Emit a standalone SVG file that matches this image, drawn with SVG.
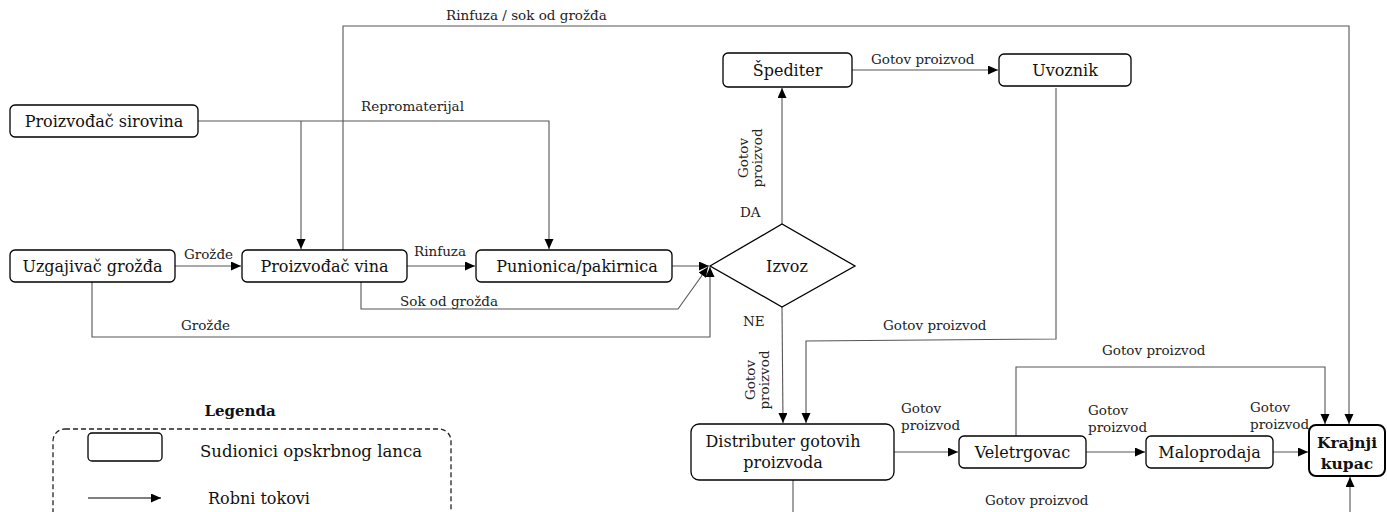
<svg xmlns="http://www.w3.org/2000/svg" width="1387" height="512" viewBox="0 0 1387 512">
<style>
.box{fill:#fff;stroke:#000;stroke-width:1.3}
.bt{font-family:"DejaVu Serif","Liberation Serif",serif;font-size:16px;fill:#111;text-anchor:middle}
.lb{font-family:"DejaVu Serif","Liberation Serif",serif;font-size:13.5px;fill:#222}
.ln{fill:none;stroke:#555;stroke-width:1.1}
.lna{fill:none;stroke:#555;stroke-width:1.1;marker-end:url(#ah)}
</style>
<defs>
<marker id="ah" markerUnits="userSpaceOnUse" markerWidth="11" markerHeight="10" refX="10" refY="4.5" orient="auto">
<path d="M0,0 L10,4.5 L0,9 z" fill="#000"/>
</marker>
</defs>
<rect width="1387" height="512" fill="#fff"/>

<g id="connectors">
<polyline class="lna" points="343,250 343,26 1349,26 1349,424"/>
<polyline class="lna" points="198,121 549,121 549,249"/>
<polyline class="lna" points="301,121 301,249"/>
<polyline class="lna" points="175,266 241,266"/>
<polyline class="lna" points="407,266 475,266"/>
<polyline class="lna" points="672,266 709,266"/>
<polyline class="lna" points="361,282 361,309 678,309 708,267"/>
<polyline class="lna" points="92,282 92,337 710,337 710,267"/>
<polyline class="lna" points="782,224 782,88"/>
<polyline class="lna" points="852,70 998,70"/>
<polyline class="lna" points="1056,88 1056,339 806,341 806,423"/>
<polyline class="lna" points="782,307 783,423"/>
<polyline class="lna" points="894,452 958,452"/>
<polyline class="lna" points="1086,452 1145,452"/>
<polyline class="lna" points="1273,452 1308,452"/>
<polyline class="lna" points="1016,436 1016,367 1325,367 1325,424"/>
<polyline class="ln" points="793,480 793,512"/>
<polyline class="lna" points="1350,512 1350,477"/>

<text class="lb" x="446" y="20">Rinfuza / sok od grožđa</text>
<text class="lb" x="361" y="111">Repromaterijal</text>
<text class="lb" x="184" y="259">Grožđe</text>
<text class="lb" x="414" y="256">Rinfuza</text>
<text class="lb" x="400" y="306">Sok od grožđa</text>
<text class="lb" x="181" y="330">Grožđe</text>
<text class="lb" x="871" y="64">Gotov proizvod</text>
<text class="lb" x="740" y="217">DA</text>
<text class="lb" x="743" y="326">NE</text>
<text class="lb" x="883" y="330">Gotov proizvod</text>
<text class="lb" x="1102" y="355">Gotov proizvod</text>
<text class="lb" x="985" y="505">Gotov proizvod</text>
<text class="lb" x="901" y="413">Gotov</text>
<text class="lb" x="901" y="430">proizvod</text>
<text class="lb" x="1088" y="415">Gotov</text>
<text class="lb" x="1088" y="432">proizvod</text>
<text class="lb" x="1250" y="412">Gotov</text>
<text class="lb" x="1250" y="429">proizvod</text>
<g transform="translate(748,158) rotate(-90)"><text class="lb" x="0" y="0" text-anchor="middle">Gotov</text><text class="lb" x="0" y="14" text-anchor="middle">proizvod</text></g>
<g transform="translate(755,380) rotate(-90)"><text class="lb" x="0" y="0" text-anchor="middle">Gotov</text><text class="lb" x="0" y="14" text-anchor="middle">proizvod</text></g>
</g>

<g id="n-proizvodac-sirovina"><rect class="box" x="10" y="105" width="188" height="32" rx="5"/><text class="bt" x="104" y="127">Proizvođač sirovina</text></g>
<g id="n-uzgajivac"><rect class="box" x="10" y="250" width="165" height="32" rx="5"/><text class="bt" x="92.5" y="272">Uzgajivač grožđa</text></g>
<g id="n-proizvodac-vina"><rect class="box" x="242" y="250" width="165" height="32" rx="5"/><text class="bt" x="324.5" y="272">Proizvođač vina</text></g>
<g id="n-punionica"><rect class="box" x="476" y="250" width="196" height="32" rx="5"/><text class="bt" x="577" y="272">Punionica/pakirnica</text></g>
<g id="n-izvoz"><polygon class="box" points="710,266 782,224 855,266 782,307"/><text class="bt" x="787" y="272">Izvoz</text></g>
<g id="n-spediter"><rect class="box" x="723" y="53" width="129" height="34" rx="5"/><text class="bt" x="787.5" y="76">Špediter</text></g>
<g id="n-uvoznik"><rect class="box" x="999" y="54" width="132" height="32" rx="5"/><text class="bt" x="1065" y="76">Uvoznik</text></g>
<g id="n-distributer"><rect class="box" x="691" y="424" width="203" height="56" rx="8"/><text class="bt" x="783" y="447">Distributer gotovih</text><text class="bt" x="783" y="468">proizvoda</text></g>
<g id="n-veletrgovac"><rect class="box" x="959" y="436" width="127" height="32" rx="5"/><text class="bt" x="1022.5" y="458">Veletrgovac</text></g>
<g id="n-maloprodaja"><rect class="box" x="1146" y="436" width="127" height="32" rx="5"/><text class="bt" x="1209.5" y="458">Maloprodaja</text></g>
<g id="n-krajnji-kupac"><rect x="1309" y="425" width="76" height="51" rx="7" fill="#fff" stroke="#000" stroke-width="2"/><text class="bt" x="1347" y="448" style="font-weight:bold;font-size:15.5px">Krajnji</text><text class="bt" x="1347" y="469" style="font-weight:bold;font-size:15.5px">kupac</text></g>

<g id="legend">
<text class="bt" x="240" y="416" style="font-weight:bold;font-size:15px">Legenda</text>
<rect x="53" y="429" width="398" height="110" rx="12" fill="none" stroke="#222" stroke-width="1.3" stroke-dasharray="5,3"/>
<rect class="box" x="88" y="433" width="74" height="28" rx="4"/>
<text class="bt" x="200" y="457" style="text-anchor:start;font-size:16.5px">Sudionici opskrbnog lanca</text>
<line class="lna" x1="88" y1="498" x2="161" y2="498" style="stroke:#000"/>
<text class="bt" x="208" y="504" style="text-anchor:start;font-size:16px">Robni tokovi</text>
</g>
</svg>
